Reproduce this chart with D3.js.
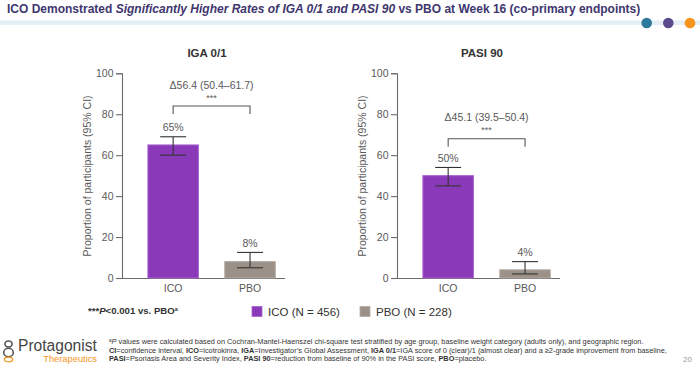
<!DOCTYPE html>
<html><head><meta charset="utf-8">
<script src="https://cdn.jsdelivr.net/npm/d3@7"></script>
<style>
html,body{margin:0;padding:0;background:#fff;}
svg{display:block;font-family:"Liberation Sans",Arial,sans-serif;}
</style></head>
<body><svg id="chart" width="700" height="369"></svg>
<script>
// ---- data ----
const panelTitles = ["IGA 0/1", "PASI 90"];
const categories = ["ICO", "PBO"];
const values = [[65, 8], [50, 4]];
const ciLow = [[60, 5], [45, 2]];
const ciHigh = [[69, 12.5], [54, 8]];
const valueLabels = [["65%", "8%"], ["50%", "4%"]];
const deltaLabels = ["\u039456.4 (50.4\u201361.7)", "\u039445.1 (39.5\u201350.4)"];
const bracketLevel = [84, 68];
const yTicks = [0, 20, 40, 60, 80, 100];
const legendLabels = ["ICO (N = 456)", "PBO (N = 228)"];
const yAxisTitle = "Proportion of participants (95% CI)";

// ---- styles ----
const barFill = {ICO: "#8a3ab9", PBO: "#9c9189"};
const barStroke = {ICO: "#a862cf", PBO: "#b3aaa3"};
const svg = d3.select("#chart");

// header
svg.append("rect").attr("x", 0).attr("y", 20.5).attr("width", 700).attr("height", 4.5).attr("fill", "#e3eef5");
const title = svg.append("text").attr("x", 7).attr("y", 13.3)
  .attr("font-size", 12).attr("font-weight", "bold").attr("fill", "#40366e");
title.append("tspan").text("ICO Demonstrated ");
title.append("tspan").attr("font-style", "italic").text("Significantly Higher Rates of IGA 0/1 and PASI 90");
title.append("tspan").text(" vs PBO at Week 16 (co-primary endpoints)");
[["#2f7a9c", 646.7], ["#5b4a8b", 668.3], ["#f7941d", 690]].forEach(([c, x]) => {
  svg.append("circle").attr("cx", x).attr("cy", 23).attr("r", 5.3).attr("fill", c);
});

// panels
const y = d3.scaleLinear().domain([0, 100]).range([278, 73.3]);
const axisXs = [122, 397];

panelTitles.forEach((pt, i) => {
  const x0 = axisXs[i];
  const g = svg.append("g");
  const x = d3.scaleBand().domain(categories).range([x0 + 25.4, x0 + 25.4 + 128.4]).paddingInner(0.33).paddingOuter(0);

  // y axis
  const ya = g.append("g").attr("transform", `translate(${x0},0)`)
    .call(d3.axisLeft(y).tickValues(yTicks).tickSize(6).tickPadding(2.5));
  ya.select(".domain").attr("stroke", "#6b6b6b").attr("stroke-width", 1.1);
  ya.selectAll(".tick line").attr("stroke", "#6b6b6b").attr("stroke-width", 1.1);
  ya.selectAll(".tick text").attr("font-size", 10.5).attr("fill", "#595959").attr("font-family", "Liberation Sans, Arial, sans-serif");

  // x axis
  const xa = g.append("g").attr("transform", `translate(0,${y(0)})`)
    .call(d3.axisBottom(x).tickSize(0).tickPadding(7));
  xa.select(".domain").attr("d", `M${x0},0.5H${x0 + 163}`).attr("stroke", "#6b6b6b").attr("stroke-width", 1.1);
  xa.selectAll(".tick text").attr("font-size", 10.5).attr("fill", "#595959").attr("font-family", "Liberation Sans, Arial, sans-serif");

  // y title
  g.append("text").attr("transform", `translate(${x0 - 31},176) rotate(-90)`)
    .attr("text-anchor", "middle").attr("font-size", 10.5).attr("fill", "#595959").text(yAxisTitle);

  // panel title
  g.append("text").attr("x", x0 + 85).attr("y", 56.5).attr("text-anchor", "middle")
    .attr("font-size", 11.5).attr("font-weight", "bold").attr("fill", "#333").text(pt);

  // bars
  categories.forEach((c, j) => {
    const v = values[i][j];
    g.append("rect").attr("x", x(c) + 0.5).attr("y", y(v)).attr("width", x.bandwidth() - 1)
      .attr("height", y(0) - y(v)).attr("fill", barFill[c]).attr("stroke", barStroke[c]).attr("stroke-width", 1);
    const cx = x(c) + x.bandwidth() / 2;
    const lo = y(ciLow[i][j]), hi = y(ciHigh[i][j]);
    const eb = g.append("g").attr("stroke", "#333").attr("stroke-width", 1.1).attr("fill", "none");
    eb.append("line").attr("x1", cx).attr("x2", cx).attr("y1", lo).attr("y2", hi);
    eb.append("line").attr("x1", cx - 13).attr("x2", cx + 13).attr("y1", lo).attr("y2", lo);
    eb.append("line").attr("x1", cx - 13).attr("x2", cx + 13).attr("y1", hi).attr("y2", hi);
    g.append("text").attr("x", cx).attr("y", hi - 5.5).attr("text-anchor", "middle")
      .attr("font-size", 10.5).attr("fill", "#595959").text(valueLabels[i][j]);
  });

  // bracket
  const bx1 = x("ICO") + x.bandwidth() / 2, bx2 = x("PBO") + x.bandwidth() / 2;
  const by = y(bracketLevel[i]);
  g.append("path").attr("d", `M${bx1},${by + 8}V${by}H${bx2}V${by + 8}`)
    .attr("fill", "none").attr("stroke", "#555").attr("stroke-width", 1.1);
  g.append("text").attr("x", (bx1 + bx2) / 2).attr("y", by - 17.5).attr("text-anchor", "middle")
    .attr("font-size", 10.5).attr("fill", "#595959").text(deltaLabels[i]);
  g.append("text").attr("x", (bx1 + bx2) / 2).attr("y", by - 5.5).attr("text-anchor", "middle")
    .attr("font-size", 9).attr("fill", "#595959").text("***");
});

// legend row
const pn = svg.append("text").attr("x", 88).attr("y", 314).attr("font-size", 9.6).attr("font-weight", "bold").attr("fill", "#333");
pn.append("tspan").text("***");
pn.append("tspan").attr("font-style", "italic").text("P");
pn.append("tspan").text("<0.001 vs. PBO");
pn.append("tspan").attr("font-size", 5.5).attr("dy", -3).text("a");

const legX = [252, 360];
categories.forEach((c, j) => {
  svg.append("rect").attr("x", legX[j]).attr("y", 306.5).attr("width", 10).attr("height", 10)
    .attr("fill", barFill[c]).attr("stroke", barStroke[c]).attr("stroke-width", 0.8);
  svg.append("text").attr("x", legX[j] + 16).attr("y", 315.5).attr("font-size", 11.5).attr("fill", "#333").text(legendLabels[j]);
});

// logo
const logo = svg.append("g");
logo.append("ellipse").attr("cx", 8.5).attr("cy", 344).attr("rx", 3.6).attr("ry", 3).attr("fill", "none").attr("stroke", "#555").attr("stroke-width", 1.6);
logo.append("ellipse").attr("cx", 8.5).attr("cy", 352.5).attr("rx", 4.8).attr("ry", 4.2).attr("fill", "none").attr("stroke", "#555").attr("stroke-width", 1.6);
logo.append("ellipse").attr("cx", 8.5).attr("cy", 359.5).attr("rx", 4.2).attr("ry", 2.4).attr("fill", "none").attr("stroke", "#f7941d").attr("stroke-width", 1.3);
svg.append("text").attr("x", 18).attr("y", 351).attr("font-size", 15.6).attr("fill", "#444").text("Protagonist");
svg.append("text").attr("x", 97).attr("y", 362).attr("text-anchor", "end").attr("font-size", 9.3).attr("fill", "#f7941d").text("Therapeutics");

// footnote
const fn = [
  [["a", "sup"], ["P", "i"], [" values were calculated based on Cochran-Mantel-Haenszel chi-square test stratified by age group, baseline weight category (adults only), and geographic region.", ""]],
  [["CI", "b"], ["=confidence interval, ", ""], ["ICO", "b"], ["=icotrokinra, ", ""], ["IGA", "b"], ["=Investigator\u2019s Global Assessment, ", ""], ["IGA 0/1", "b"], ["=IGA score of 0 (clear)/1 (almost clear) and a \u22652-grade improvement from baseline,", ""]],
  [["PASI", "b"], ["=Psoriasis Area and Severity Index, ", ""], ["PASI 90", "b"], ["=reduction from baseline of 90% in the PASI score, ", ""], ["PBO", "b"], ["=placebo.", ""]]
];
const fnY = [344, 352.7, 361.4];
fn.forEach((parts, k) => {
  const t = svg.append("text").attr("x", 109).attr("y", fnY[k]).attr("font-size", 7.35).attr("fill", "#333");
  parts.forEach(([s, st]) => {
    const ts = t.append("tspan").text(s);
    if (st === "b") ts.attr("font-weight", "bold");
    if (st === "i") ts.attr("font-style", "italic");
    if (st === "sup") ts.attr("font-size", 4.5).attr("dy", -2.5);
    if (k === 0 && s === "P") ts.attr("dy", 2.5);
  });
});
svg.append("text").attr("x", 683).attr("y", 362).attr("font-size", 8).attr("fill", "#999").text("20");
</script></body></html>
